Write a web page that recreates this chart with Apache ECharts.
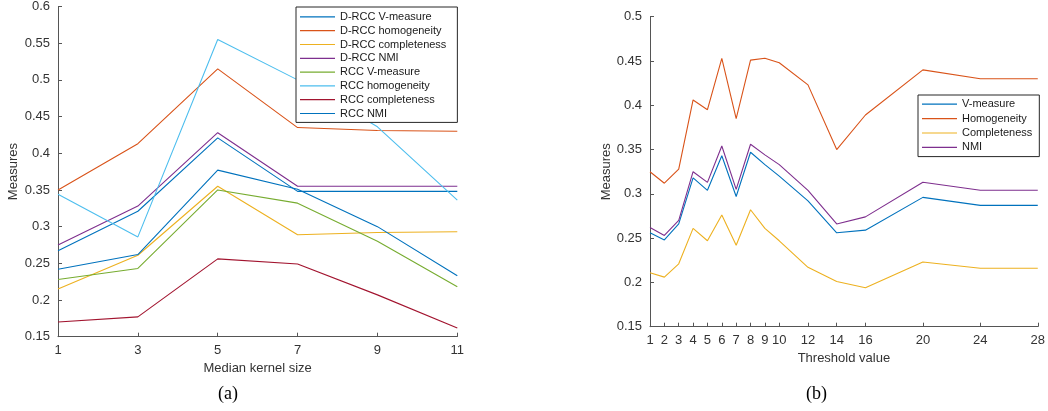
<!DOCTYPE html>
<html>
<head>
<meta charset="utf-8">
<script src="https://cdn.jsdelivr.net/npm/echarts@6/dist/echarts.min.js"></script>
<style>
  html, body { margin: 0; padding: 0; background: #fff; }
  #chart { width: 1048px; height: 411px; }
</style>
</head>
<body>
<div id="chart"></div>
<script>
// (a) median kernel size
const kernelSizes = [1, 3, 5, 7, 9, 11];
const dRccVMeasure = [0.267, 0.321, 0.421, 0.348, 0.348, 0.348];
const dRccHomogeneity = [0.350, 0.413, 0.515, 0.435, 0.431, 0.430];
const dRccCompleteness = [0.215, 0.261, 0.355, 0.289, 0.292, 0.293];
const dRccNmi = [0.275, 0.328, 0.428, 0.355, 0.355, 0.355];
const rccVMeasure = [0.228, 0.243, 0.350, 0.332, 0.280, 0.218];
const rccHomogeneity = [0.344, 0.286, 0.555, 0.500, 0.436, 0.336];
const rccCompleteness = [0.170, 0.177, 0.256, 0.249, 0.207, 0.162];
const rccNmi = [0.242, 0.262, 0.377, 0.351, 0.300, 0.233];

// (b) threshold value
const thresholds = [1, 2, 3, 4, 5, 6, 7, 8, 9, 10, 12, 14, 16, 20, 24, 28];
const vMeasure = [0.256, 0.248, 0.266, 0.318, 0.304, 0.343, 0.297, 0.347, 0.333, 0.320, 0.292, 0.256, 0.259, 0.296, 0.287, 0.287];
const homogeneity = [0.325, 0.312, 0.328, 0.406, 0.395, 0.453, 0.385, 0.451, 0.453, 0.448, 0.423, 0.350, 0.389, 0.440, 0.430, 0.430];
const completeness = [0.211, 0.206, 0.221, 0.261, 0.247, 0.276, 0.242, 0.282, 0.261, 0.247, 0.217, 0.201, 0.194, 0.223, 0.216, 0.216];
const nmi = [0.262, 0.253, 0.270, 0.325, 0.313, 0.354, 0.305, 0.356, 0.344, 0.333, 0.304, 0.266, 0.274, 0.313, 0.304, 0.304];

const FONT = 'Liberation Sans';
const TEXT = '#333333';
const AXIS = '#555555';

const pairs = (xs, ys) => xs.map((x, i) => [x, ys[i]]);

const lineSeries = (name, xs, ys, color, idx) => ({
  name: name,
  type: 'line',
  xAxisIndex: idx,
  yAxisIndex: idx,
  symbol: 'none',
  animation: false,
  lineStyle: { width: 1.1, color: color },
  itemStyle: { color: color },
  data: pairs(xs, ys)
});

const xAxisBase = (ticks, name, gap) => ({
  type: 'value',
  name: name,
  nameLocation: 'middle',
  nameGap: gap,
  nameTextStyle: { fontFamily: FONT, fontSize: 13, color: TEXT },
  axisLine: { lineStyle: { color: AXIS, width: 1 } },
  axisTick: { inside: true, length: 4, customValues: ticks, lineStyle: { color: AXIS } },
  axisLabel: { customValues: ticks, fontFamily: FONT, fontSize: 13, color: TEXT, margin: 7 },
  splitLine: { show: false }
});

const yAxisBase = (min, max, gap) => ({
  type: 'value',
  min: min,
  max: max,
  interval: 0.05,
  name: 'Measures',
  nameLocation: 'middle',
  nameGap: gap,
  nameTextStyle: { fontFamily: FONT, fontSize: 13, color: TEXT },
  axisLine: { show: true, lineStyle: { color: AXIS, width: 1 } },
  axisTick: { show: true, inside: true, length: 4, lineStyle: { color: AXIS } },
  axisLabel: {
    fontFamily: FONT, fontSize: 13, color: TEXT, margin: 8,
    formatter: v => String(Math.round(v * 100) / 100)
  },
  splitLine: { show: false }
});

const legendBase = (names, left, top, padding, rowHeight) => ({
  data: names,
  orient: 'vertical',
  left: left,
  top: top,
  padding: padding,
  itemGap: 0,
  icon: 'rect',
  itemWidth: 35,
  itemHeight: 1.2,
  backgroundColor: '#fff',
  borderColor: '#262626',
  borderWidth: 1,
  borderRadius: 0,
  selectedMode: false,
  textStyle: { fontFamily: FONT, fontSize: 11, color: '#1a1a1a', lineHeight: rowHeight }
});

const namesA = ['D-RCC V-measure', 'D-RCC homogeneity', 'D-RCC completeness', 'D-RCC NMI',
  'RCC V-measure', 'RCC homogeneity', 'RCC completeness', 'RCC NMI'];
const namesB = ['V-measure', 'Homogeneity', 'Completeness', 'NMI'];

const option = {
  animation: false,
  backgroundColor: '#fff',
  grid: [
    { left: 58, right: 590.7, top: 6, bottom: 74.3, containLabel: false },
    { left: 650, right: 5.7, top: 16.7, bottom: 84.3, containLabel: false }
  ],
  xAxis: [
    Object.assign(xAxisBase(kernelSizes, 'Median kernel size', 24), { gridIndex: 0, min: 1, max: 11 }),
    Object.assign(xAxisBase(thresholds, 'Threshold value', 22), { gridIndex: 1, min: 1, max: 28 })
  ],
  yAxis: [
    Object.assign(yAxisBase(0.15, 0.6, 38), { gridIndex: 0 }),
    Object.assign(yAxisBase(0.15, 0.5, 36), { gridIndex: 1 })
  ],
  legend: [
    legendBase(namesA, 296, 7, [3, 11, 2, 4], 13.8),
    legendBase(namesB, 918, 95, [2, 7, 2, 4], 14.4)
  ],
  graphic: [
    { type: 'text', left: 218, top: 385, style: { text: '(a)', font: '18px "Liberation Serif"', fill: '#000' } },
    { type: 'text', left: 806, top: 385, style: { text: '(b)', font: '18px "Liberation Serif"', fill: '#000' } }
  ],
  series: [
    lineSeries('D-RCC V-measure', kernelSizes, dRccVMeasure, '#0072BD', 0),
    lineSeries('D-RCC homogeneity', kernelSizes, dRccHomogeneity, '#D95319', 0),
    lineSeries('D-RCC completeness', kernelSizes, dRccCompleteness, '#EDB120', 0),
    lineSeries('D-RCC NMI', kernelSizes, dRccNmi, '#7E2F8E', 0),
    lineSeries('RCC V-measure', kernelSizes, rccVMeasure, '#77AC30', 0),
    lineSeries('RCC homogeneity', kernelSizes, rccHomogeneity, '#4DBEEE', 0),
    lineSeries('RCC completeness', kernelSizes, rccCompleteness, '#A2142F', 0),
    lineSeries('RCC NMI', kernelSizes, rccNmi, '#0072BD', 0),
    lineSeries('V-measure', thresholds, vMeasure, '#0072BD', 1),
    lineSeries('Homogeneity', thresholds, homogeneity, '#D95319', 1),
    lineSeries('Completeness', thresholds, completeness, '#EDB120', 1),
    lineSeries('NMI', thresholds, nmi, '#7E2F8E', 1)
  ]
};

const chart = echarts.init(document.getElementById('chart'), null, { renderer: 'canvas' });
chart.setOption(option);
</script>
</body>
</html>
